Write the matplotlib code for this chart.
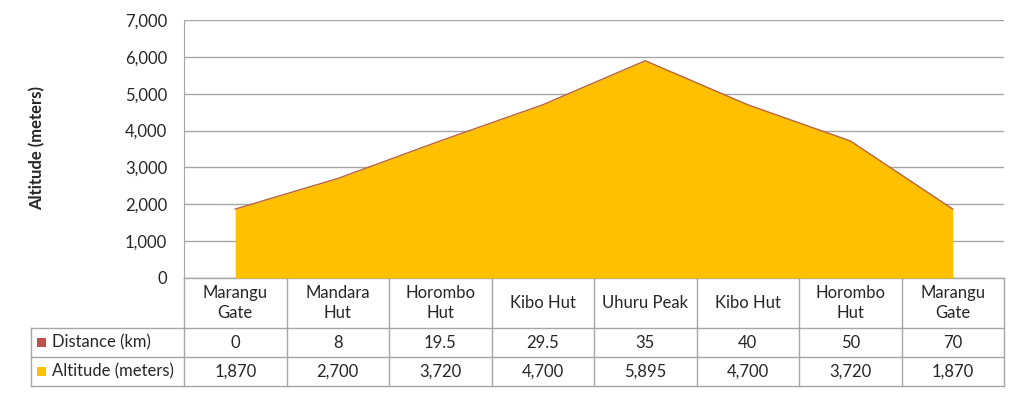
import matplotlib.pyplot as plt
from matplotlib.patches import Rectangle
from matplotlib.transforms import blended_transform_factory

plt.rcParams['font.family'] = ['Lato', 'DejaVu Sans']

stops = ["Marangu\nGate", "Mandara\nHut", "Horombo\nHut", "Kibo Hut",
         "Uhuru Peak", "Kibo Hut", "Horombo\nHut", "Marangu\nGate"]
distance_km = [0, 8, 19.5, 29.5, 35, 40, 50, 70]
altitude_m = [1870, 2700, 3720, 4700, 5895, 4700, 3720, 1870]
series_names = ["Distance (km)", "Altitude (meters)"]
series_colors = ["#C0504D", "#FFC000"]
yticks = [0, 1000, 2000, 3000, 4000, 5000, 6000, 7000]

grid_color = "#A6A6A6"
text_color = "#262626"

fig = plt.figure(figsize=(10.24, 3.94), dpi=100)
ax = fig.add_axes([184 / 1024, (394 - 278) / 394, 820 / 1024, 258 / 394])

n = len(stops)
xs = [i + 0.5 for i in range(n)]

ax.fill_between(xs, distance_km, color=series_colors[0], lw=0, zorder=2)
ax.fill_between(xs, altitude_m, color=series_colors[1], lw=0, zorder=3)
ax.plot(xs, altitude_m, color="#B8643C", lw=1, zorder=4)

ax.set_xlim(0, n)
ax.set_ylim(0, 7000)
ax.set_yticks(yticks)
ax.set_yticklabels([f"{v:,}" for v in yticks], fontsize=12, color=text_color)
ax.set_xticks([])
ax.tick_params(axis='y', length=0, pad=12)
ax.grid(axis='y', color=grid_color, lw=1)
ax.set_axisbelow(True)
for side in ['top', 'right', 'bottom']:
    ax.spines[side].set_visible(False)
ax.spines['left'].set_color(grid_color)
ax.spines['left'].set_zorder(1)

fig.text(37 / 1024, 1 - 148 / 394, "Altitude (meters)", rotation=90,
         ha='center', va='center', fontsize=12, fontweight='bold', color=text_color)

# data table under the plot
tr = blended_transform_factory(ax.transData, ax.transAxes)
h = 258.0
row_edges = [0, -50 / h, -79 / h, -108 / h]
left = (31 - 184) / 102.5

def hline(x0, x1, y):
    ax.plot([x0, x1], [y, y], color=grid_color, lw=1, transform=tr, clip_on=False)

def vline(x, y0, y1):
    ax.plot([x, x], [y0, y1], color=grid_color, lw=1, transform=tr, clip_on=False)

hline(0, n, row_edges[0])
hline(left, n, row_edges[1])
hline(left, n, row_edges[2])
hline(left, n, row_edges[3])
for i in range(n + 1):
    vline(i, row_edges[0], row_edges[3])
vline(left, row_edges[1], row_edges[3])

for i, name in enumerate(stops):
    ax.text(xs[i], (row_edges[0] + row_edges[1]) / 2, name, transform=tr,
            ha='center', va='center', fontsize=12, color=text_color, linespacing=1.25)

rows = [[f"{v:g}" for v in distance_km], [f"{v:,}" for v in altitude_m]]
for r, vals in enumerate(rows):
    ymid = (row_edges[r + 1] + row_edges[r + 2]) / 2
    for i, v in enumerate(vals):
        ax.text(xs[i], ymid, v, transform=tr, ha='center', va='center',
                fontsize=12, color=text_color)
    ax.add_patch(Rectangle((left + 0.059, ymid - 4.5 / h), 9 / 102.5, 9 / h,
                           transform=tr, color=series_colors[r], clip_on=False, lw=0))
    ax.text(left + 0.205, ymid, series_names[r], transform=tr, ha='left', va='center',
            fontsize=12, color=text_color)

fig.savefig("out.png", dpi=100)
